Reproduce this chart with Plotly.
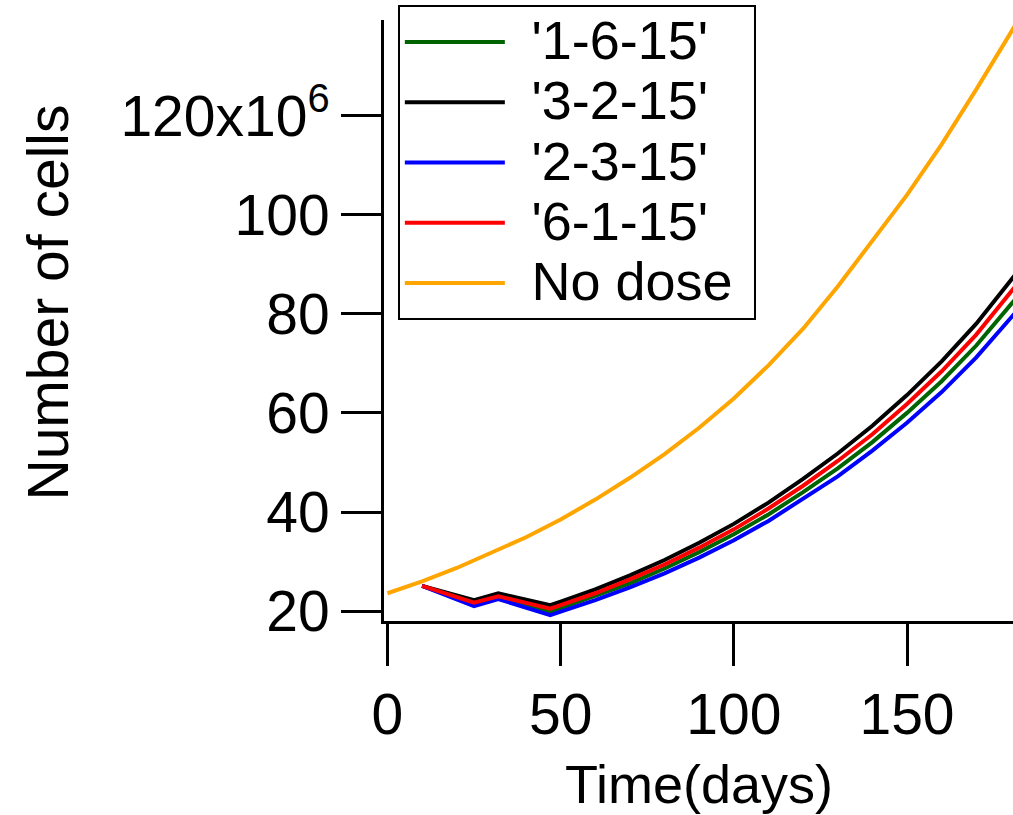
import plotly.graph_objects as go

# Time (days)
days_nodose = [0, 10, 20, 30, 40, 50, 60, 70, 80, 90, 100, 110, 120, 130, 140, 150, 160, 170, 180, 181]
days_treat = [10, 25, 32, 47, 50, 60, 70, 80, 90, 100, 110, 120, 130, 140, 150, 160, 170, 180, 181]

# Number of cells (millions)
no_dose = [23.6, 26.0, 28.7, 31.7, 34.9, 38.5, 42.5, 46.9, 51.7, 57.0, 62.9, 69.6, 77.0, 85.5,
           94.6, 104.0, 114.2, 125.3, 136.8, 138.0]
s_1_6_15 = [25.1, 21.4, 22.7, 19.9, 20.6, 23.0, 25.6, 28.6, 31.9, 35.5, 39.5, 44.0, 48.8, 54.1,
            60.0, 66.4, 73.6, 81.9, 82.7]
s_3_2_15 = [25.1, 22.2, 23.6, 21.2, 21.9, 24.4, 27.2, 30.3, 33.8, 37.6, 41.9, 46.7, 51.8, 57.4,
            63.6, 70.4, 78.0, 86.8, 87.7]
s_2_3_15 = [25.1, 21.0, 22.4, 19.2, 19.9, 22.2, 24.8, 27.6, 30.8, 34.3, 38.2, 42.6, 47.2, 52.4,
            58.0, 64.2, 71.2, 79.2, 80.0]
s_6_1_15 = [25.1, 21.7, 23.0, 20.5, 21.2, 23.6, 26.4, 29.4, 32.8, 36.5, 40.7, 45.3, 50.3, 55.7,
            61.8, 68.4, 75.8, 84.4, 85.3]

series_names = ["'1-6-15'", "'3-2-15'", "'2-3-15'", "'6-1-15'", "No dose"]
series_colors = ["#006400", "#000000", "#0000ff", "#ff0000", "#ffa500"]

y_tickvals = [20, 40, 60, 80, 100, 120]
y_ticktext = ["20", "40", "60", "80", "100", "120x10<sup>6</sup>"]
x_tickvals = [0, 50, 100, 150]

FONT = "Liberation Sans, Arial, sans-serif"
BIG = 57

fig = go.Figure()
data = [(days_treat, s_1_6_15), (days_treat, s_3_2_15), (days_treat, s_2_3_15),
        (days_treat, s_6_1_15), (days_nodose, no_dose)]
for (x, y), name, color in zip(data, series_names, series_colors):
    label = '<span style="font-size:54px">\u2009\u2009' + name + '\u2009\u200a</span>'
    fig.add_trace(go.Scatter(x=x, y=y, name=label, mode="lines",
                             line=dict(color=color, width=4)))

fig.update_layout(
    width=1013, height=815,
    margin=dict(l=384, r=0, t=20, b=194),
    paper_bgcolor="white", plot_bgcolor="white",
    font=dict(family=FONT, size=BIG, color="black"),
    showlegend=True,
    legend=dict(x=0.022, y=1.025, xanchor="left", yanchor="top",
                bordercolor="black", borderwidth=2, bgcolor="white",
                font=dict(family=FONT, size=44, color="black"),
                itemwidth=100, tracegroupgap=0),
    xaxis=dict(range=[-1, 180.6], showgrid=False, zeroline=False,
               showline=True, linecolor="black", linewidth=3,
               ticks="outside", ticklen=42, tickwidth=3, tickcolor="black",
               tickvals=x_tickvals, tickfont=dict(size=BIG, family=FONT)),
    yaxis=dict(range=[18.0, 139.3], showgrid=False, zeroline=False,
               showline=True, linecolor="black", linewidth=3,
               ticks="outside", ticklen=40, tickwidth=3, tickcolor="black",
               tickvals=y_tickvals, ticktext=y_ticktext,
               tickfont=dict(size=BIG, family=FONT)),
    annotations=[
        dict(text="Time(days)", xref="paper", yref="paper", x=0.5, y=0,
             yshift=-163, showarrow=False, xanchor="center", yanchor="middle",
             font=dict(size=54, family=FONT)),
        dict(text="Number of cells", xref="paper", yref="paper", x=0, y=0.5,
             xshift=-337, yshift=18, textangle=-90, showarrow=False,
             xanchor="center", yanchor="middle", font=dict(size=BIG, family=FONT)),
    ],
)

fig.write_html("out.html", config={"displayModeBar": False},
               post_script="document.body.style.margin='0px';document.body.style.overflow='hidden';")
